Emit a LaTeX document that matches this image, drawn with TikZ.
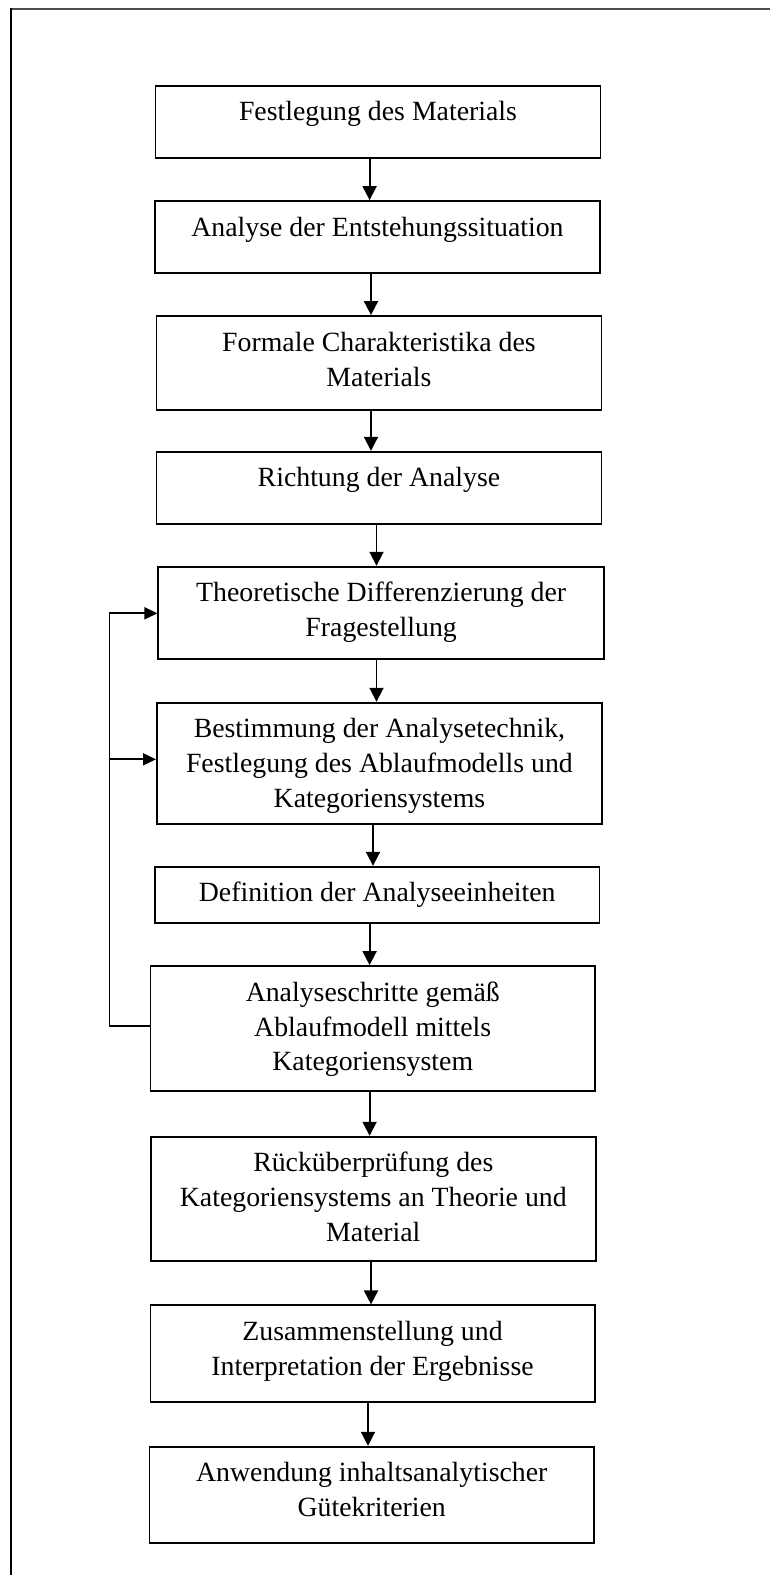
\documentclass[tikz,border=0pt]{standalone}
\usepackage{fontspec}
\setmainfont{Liberation Serif}
\usetikzlibrary{arrows.meta}
\begin{document}
\begin{tikzpicture}[x=1pt,y=-1pt,
  box/.style={draw=black, line width=1.8pt, rectangle, inner sep=0pt},
  txt/.style={anchor=north, align=center, inner sep=0pt, yshift=-11.6pt,
    font=\fontsize{27.8}{34.8}\selectfont},
  arr/.style={line width=1.9pt, -{Triangle[length=14pt,width=14pt]}},
  fb/.style={line width=1.3pt},
  fbarr/.style={line width=1.9pt, -{Triangle[length=13pt,width=12pt]}}]
\useasboundingbox (0,0) rectangle (769,1575);
% outer frame
\draw[line width=1.6pt, black!70] (10.8,9) -- (780,9);
\draw[line width=2pt, black] (10.8,8.2) -- (10.8,1590);
% boxes
\node[box, minimum width=445.1pt, minimum height=72pt]   (b1)  at (378,121.7) {};
\node[box, minimum width=445pt,   minimum height=72.3pt] (b2)  at (377.5,237.15) {};
\node[box, minimum width=445.1pt, minimum height=93.7pt] (b3)  at (378.95,362.85) {};
\node[box, minimum width=445.1pt, minimum height=72.6pt] (b4)  at (378.95,488) {};
\node[box, minimum width=445.7pt, minimum height=92.6pt] (b5)  at (381.15,613) {};
\node[box, minimum width=445.1pt, minimum height=121.3pt] (b6) at (379.45,763.35) {};
\node[box, minimum width=444.6pt, minimum height=56.6pt] (b7)  at (377.2,895) {};
\node[box, minimum width=444.5pt, minimum height=124.7pt] (b8) at (372.75,1028.35) {};
\node[box, minimum width=444.6pt, minimum height=124pt]  (b9)  at (373.3,1198.7) {};
\node[box, minimum width=444.1pt, minimum height=96.4pt] (b10) at (372.55,1353.5) {};
\node[box, minimum width=444.5pt, minimum height=96.6pt] (b11) at (371.75,1495) {};
% texts
\node[txt] (t1)  at (b1.north)  {\strut Festlegung des Materials};
\node[txt] (t2)  at (b2.north)  {\strut Analyse der Entstehungssituation};
\node[txt] (t3)  at (b3.north)  {\strut Formale Charakteristika des\\Materials};
\node[txt] (t4)  at (b4.north)  {\strut Richtung der Analyse};
\node[txt] (t5)  at (b5.north)  {\strut Theoretische Differenzierung der\\Fragestellung};
\node[txt] (t6)  at (b6.north)  {\strut Bestimmung der Analysetechnik,\\Festlegung des Ablaufmodells und\\Kategoriensystems};
\node[txt] (t7)  at (b7.north)  {\strut Definition der Analyseeinheiten};
\node[txt] (t8)  at (b8.north)  {\strut Analyseschritte gemäß\\Ablaufmodell mittels\\Kategoriensystem};
\node[txt] (t9)  at (b9.north)  {\strut Rücküberprüfung des\\Kategoriensystems an Theorie und\\Material};
\node[txt] (t10) at (b10.north) {\strut Zusammenstellung und\\Interpretation der Ergebnisse};
\node[txt] (t11) at (b11.north) {\strut Anwendung inhaltsanalytischer\\Gütekriterien};
% arrow x positions
\coordinate (x12) at (369.6,0);
\coordinate (x23) at (371,0);
\coordinate (x34) at (371,0);
\coordinate (x45) at (376.5,0);
\coordinate (x56) at (376.5,0);
\coordinate (x67) at (373,0);
\coordinate (x78) at (369.6,0);
\coordinate (x89) at (369.6,0);
\coordinate (x910) at (371,0);
\coordinate (x1011) at (368,0);
\draw[arr] (b1.south -| x12) -- (b2.north -| x12);
\draw[arr] (b2.south -| x23) -- (b3.north -| x23);
\draw[arr] (b3.south -| x34) -- (b4.north -| x34);
\draw[arr] (b4.south -| x45) -- (b5.north -| x45);
\draw[arr] (b5.south -| x56) -- (b6.north -| x56);
\draw[arr] (b6.south -| x67) -- (b7.north -| x67);
\draw[arr] (b7.south -| x78) -- (b8.north -| x78);
\draw[arr] (b8.south -| x89) -- (b9.north -| x89);
\draw[arr] (b9.south -| x910) -- (b10.north -| x910);
\draw[arr] (b10.south -| x1011) -- (b11.north -| x1011);
% feedback loop
\coordinate (fbA) at (109.3,1026);
\coordinate (fbB) at (109.3,613.3);
\coordinate (fbC) at (109.3,759.3);
\draw[fb] (b8.west |- fbA) -- (fbA) -- (fbB);
\draw[fbarr] (fbB) -- (b5.west |- fbB);
\draw[fbarr] (fbC) -- (b6.west |- fbC);
\end{tikzpicture}
\end{document}
